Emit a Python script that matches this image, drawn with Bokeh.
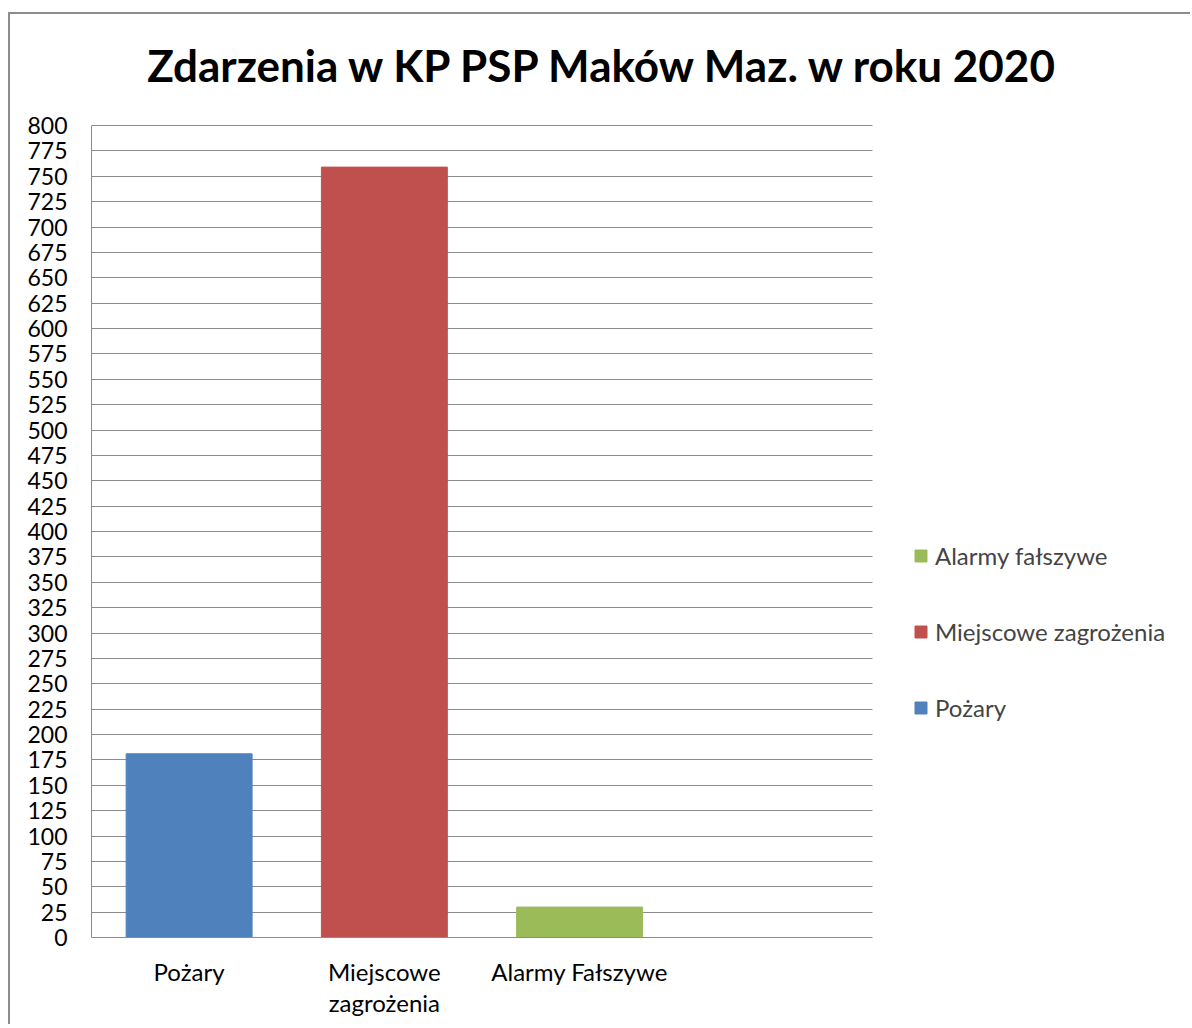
from bokeh.plotting import figure
from bokeh.models import (ColumnDataSource, Range1d, Legend, LegendItem, FixedTicker,
                          SingleIntervalTicker, BoxAnnotation, Label)
from bokeh.embed import file_html
from bokeh.resources import INLINE

title_text = "Zdarzenia w KP PSP Maków Maz. w roku 2020"
categories = ["Pożary", "Miejscowe\nzagrożenia", "Alarmy Fałszywe", ""]
values = [181, 759, 30]
legend_labels = ["Pożary", "Miejscowe zagrożenia", "Alarmy fałszywe"]
colors = ["#4F81BD", "#C0504D", "#9BBB59"]
y_max = 800

FONT = "Lato"
GRID = "#8c8c8c"

n_cat = len(categories)
centers = [i + 0.5 for i in range(n_cat)]

# frame spans the full canvas height; the value axis occupies 0..800 at the bottom
p = figure(width=1182, height=1012, output_backend="svg", toolbar_location=None,
           x_range=Range1d(0, 5.629), y_range=Range1d(0, 909.36),
           min_border_left=81, min_border_right=2, min_border_top=0, min_border_bottom=89)
p.title = None
p.styles = {"margin-left": "8px", "margin-top": "12px",
            "border-left": "2px solid #8c8c8c", "border-top": "2px solid #8c8c8c"}
p.outline_line_color = None

src = ColumnDataSource(dict(x=centers[:len(values)], top=values, color=colors, label=legend_labels))
r = p.vbar(x="x", top="top", width=0.645, color="color", source=src)

p.yaxis.ticker = SingleIntervalTicker(interval=25)
p.ygrid.ticker = SingleIntervalTicker(interval=25)
p.yaxis.bounds = (0, y_max)
p.ygrid.bounds = (0, y_max)
p.xgrid.grid_line_color = None
p.ygrid.grid_line_color = GRID
p.ygrid.grid_line_width = 1

p.xaxis.ticker = FixedTicker(ticks=centers)
p.xaxis.major_label_overrides = {c: lab for c, lab in zip(centers, categories)}
p.xaxis.bounds = (0, n_cat)

for ax in (p.xaxis, p.yaxis):
    ax.axis_line_color = GRID
    ax.axis_line_width = 1
    ax.major_tick_in = 0
    ax.major_tick_out = 0
    ax.minor_tick_in = 0
    ax.minor_tick_out = 0
    ax.major_label_text_font = FONT
    ax.major_label_text_color = "black"
p.yaxis.major_label_text_font_size = "23px"
p.xaxis.major_label_text_font_size = "24px"
p.xaxis.major_label_text_line_height = 1.1
p.yaxis.major_label_standoff = 24
p.xaxis.major_label_standoff = 19

# white area right of the plot area (chart area ends after the 4th category)
cover = BoxAnnotation(left=n_cat, fill_color="white", fill_alpha=1, line_color=None)
p.add_layout(cover)

title = Label(x=513, y=873, x_units="screen", y_units="screen", text=title_text,
              text_font=FONT, text_font_style="bold", text_font_size="44px",
              text_align="center", text_baseline="alphabetic", text_color="black")
p.add_layout(title)

items = [LegendItem(label=legend_labels[i], renderers=[r], index=i) for i in (2, 1, 0)]
legend = Legend(items=items, location=(822, 215), padding=0, margin=0, spacing=47,
                glyph_width=15, glyph_height=15, label_height=27, label_standoff=7,
                label_text_font=FONT, label_text_font_size="24px",
                border_line_color=None, background_fill_alpha=0)
p.add_layout(legend, "center")

open("out.html", "w").write(file_html(p, INLINE))
